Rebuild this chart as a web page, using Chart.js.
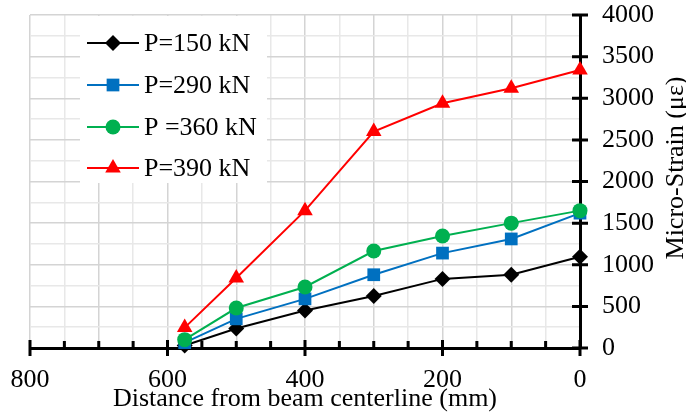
<!DOCTYPE html>
<html><head><meta charset="utf-8">
<script src="https://cdn.jsdelivr.net/npm/chart.js@4"></script>
<style>html,body{margin:0;padding:0;background:#fff}</style>
</head><body>
<canvas id="c" width="686" height="415"></canvas>
<script>
const distances = [575, 500, 400, 300, 200, 100, 0];
const p150 = [30, 235, 450, 625, 830, 880, 1095];
const p290 = [65, 350, 590, 880, 1140, 1310, 1620];
const p360 = [100, 480, 733, 1165, 1345, 1500, 1650];
const p390 = [245, 840, 1650, 2600, 2940, 3120, 3340];
const seriesNames = ['P=150 kN', 'P=290 kN', 'P =360 kN', 'P=390 kN'];
const xTickLabels = [800, 600, 400, 200, 0];
const yTickLabels = [0, 500, 1000, 1500, 2000, 2500, 3000, 3500, 4000];
const xTitle = 'Distance from beam centerline (mm)';
const yTitle = 'Micro-Strain (με)';

const FONT = 'Liberation Serif';
const FS = 26;
Chart.defaults.font.family = FONT;
Chart.defaults.font.size = FS;
Chart.defaults.color = '#000';

function pts(arr){ return distances.map((d,i)=>({x:d,y:arr[i]})); }

const styles = [
  {color:'#000000', pointStyle:'rectRot', r:8, order:4},
  {color:'#0070C0', pointStyle:'rect', r:9, order:3},
  {color:'#00B050', pointStyle:'circle', r:7.5, order:1},
  {color:'#FF0000', pointStyle:'triangle', r:9, order:2}
];
const seriesData = [p150, p290, p360, p390];

const datasets = seriesData.map((arr,i)=>({
  label: seriesNames[i],
  data: pts(arr),
  borderColor: styles[i].color,
  backgroundColor: styles[i].color,
  borderWidth: 2,
  pointStyle: styles[i].pointStyle,
  pointRadius: styles[i].r,
  pointBorderWidth: 0,
  pointBackgroundColor: styles[i].color,
  order: styles[i].order,
  clip: false,
  tension: 0
}));

const decor = {
  id: 'decor',
  beforeDatasetsDraw(chart){
    const ctx = chart.ctx, xs = chart.scales.x, ys = chart.scales.y;
    const ca = chart.chartArea;
    ctx.save();
    ctx.strokeStyle = '#000';
    ctx.lineWidth = 3;
    ctx.beginPath();
    for (let v = 0; v <= 800; v += 50) {
      const px = xs.getPixelForValue(v);
      if (v % 200 === 0) { ctx.moveTo(px, ca.bottom - 8); ctx.lineTo(px, ca.bottom + 8); }
      else { ctx.moveTo(px, ca.bottom - 7); ctx.lineTo(px, ca.bottom); }
    }
    yTickLabels.forEach(v => {
      const py = ys.getPixelForValue(v);
      ctx.moveTo(ca.right - 8, py); ctx.lineTo(ca.right + 8, py);
    });
    ctx.stroke();
    ctx.restore();
  },
  afterDraw(chart){
    const ctx = chart.ctx, ca = chart.chartArea;
    const f = FS + 'px "' + FONT + '"';
    ctx.save();
    ctx.font = f;
    ctx.fillStyle = '#000';
    ctx.textAlign = 'center';
    ctx.textBaseline = 'middle';
    ctx.translate(676, 168);
    ctx.rotate(-Math.PI/2);
    ctx.fillText(yTitle, 0, 0);
    ctx.restore();
    ctx.save();
    ctx.font = f;
    ctx.fillStyle = '#000';
    ctx.textAlign = 'center';
    ctx.textBaseline = 'middle';
    ctx.fillText(xTitle, (ca.left + ca.right)/2, 399);
    ctx.restore();
    // legend
    ctx.save();
    ctx.fillStyle = '#fff';
    ctx.fillRect(80, ca.top + 1, 187, 167);
    const rows = [43, 85, 127, 168];
    chart.data.datasets.forEach((ds, i) => {
      const y = rows[i];
      ctx.strokeStyle = ds.borderColor;
      ctx.lineWidth = 2;
      ctx.beginPath(); ctx.moveTo(87, y); ctx.lineTo(139, y); ctx.stroke();
      ctx.fillStyle = ds.borderColor;
      const cx = 113, r = ds.pointRadius;
      ctx.beginPath();
      if (ds.pointStyle === 'rectRot') {
        ctx.moveTo(cx, y - r); ctx.lineTo(cx + r, y); ctx.lineTo(cx, y + r); ctx.lineTo(cx - r, y); ctx.closePath();
      } else if (ds.pointStyle === 'rect') {
        const s = r * Math.SQRT1_2; ctx.rect(cx - s, y - s, 2*s, 2*s);
      } else if (ds.pointStyle === 'circle') {
        ctx.arc(cx, y, r, 0, Math.PI*2);
      } else {
        const h = r;
        ctx.moveTo(cx, y - h); ctx.lineTo(cx + h*Math.sin(Math.PI/3), y + h*0.5); ctx.lineTo(cx - h*Math.sin(Math.PI/3), y + h*0.5); ctx.closePath();
      }
      ctx.fill();
      ctx.fillStyle = '#000';
      ctx.font = f;
      ctx.textAlign = 'left';
      ctx.textBaseline = 'middle';
      ctx.fillText(ds.label, 144, y + 1);
    });
    ctx.restore();
  }
};

new Chart(document.getElementById('c'), {
  type: 'line',
  data: { datasets },
  options: {
    responsive: false,
    animation: false,
    layout: { padding: { left: 30, top: 15, right: 0, bottom: 0 } },
    plugins: { legend: { display: false }, tooltip: { enabled: false } },
    scales: {
      x: {
        type: 'linear', reverse: true, min: 0, max: 800,
        afterFit(s){ s.height = 67; s.paddingLeft = 0; s.paddingRight = 0; },
        afterBuildTicks(s){ const t=[]; for(let v=0; v<=800; v+=50) t.push({value:v}); s.ticks = t; },
        ticks: { autoSkip: false, maxRotation: 0, padding: 17,
          callback: v => xTickLabels.includes(v) ? String(v) : '' },
        grid: { drawTicks: false, lineWidth: 1.5,
          color: c => (c.tick && c.tick.value % 100 === 0) ? '#d4d4d4' : '#e8e8e8' },
        border: { color: '#000', width: 3 }
      },
      y: {
        position: 'right', min: 0, max: 4000,
        afterFit(s){ s.width = 106; s.paddingTop = 0; s.paddingBottom = 0; },
        afterBuildTicks(s){ const t=[]; for(let v=0; v<=4000; v+=250) t.push({value:v}); s.ticks = t; },
        ticks: { autoSkip: false, padding: 22,
          callback: v => yTickLabels.includes(v) ? String(v) : '' },
        grid: { drawTicks: false, lineWidth: 1.5,
          color: c => (c.tick && c.tick.value % 500 === 0) ? '#d4d4d4' : '#e8e8e8' },
        border: { color: '#000', width: 3 }
      }
    }
  },
  plugins: [decor]
});
</script>
</body></html>
